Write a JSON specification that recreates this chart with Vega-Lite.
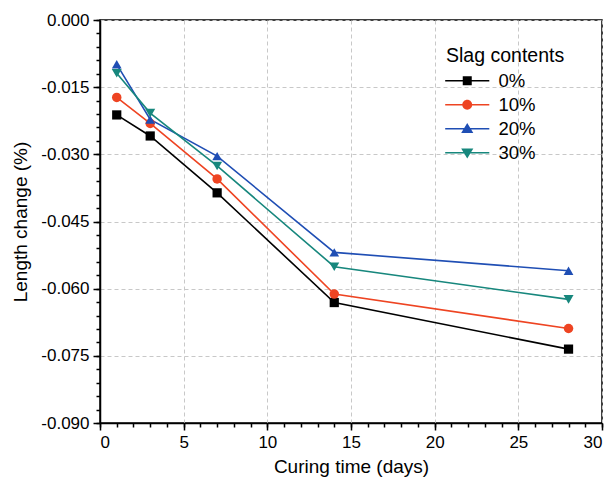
{
  "$schema": "https://vega.github.io/schema/vega-lite/v6.json",
  "width": 502,
  "height": 403,
  "autosize": {"type": "none"},
  "padding": {"left": 100, "top": 20, "right": 12, "bottom": 65},
  "background": "white",
  "config": {
    "font": "Liberation Sans",
    "view": {"stroke": "black", "strokeWidth": 1.5},
    "axis": {
      "labelFont": "Liberation Sans",
      "titleFont": "Liberation Sans",
      "labelColor": "black",
      "titleColor": "black",
      "labelFontSize": 17,
      "titleFontSize": 19,
      "titleFontWeight": "normal",
      "domainColor": "black",
      "domainWidth": 1.5,
      "tickColor": "black",
      "tickWidth": 1.5,
      "gridColor": "#c8c8c8",
      "gridDash": [4, 3],
      "gridWidth": 1
    },
    "legend": {
      "labelFont": "Liberation Sans",
      "titleFont": "Liberation Sans",
      "labelFontSize": 18.5,
      "titleFontSize": 19.5,
      "titleFontWeight": "normal",
      "labelColor": "black",
      "titleColor": "black"
    }
  },
  "data": {
    "values": [
      {"day": 1, "change": -0.0212, "slag": "0%"},
      {"day": 3, "change": -0.0259, "slag": "0%"},
      {"day": 7, "change": -0.0386, "slag": "0%"},
      {"day": 14, "change": -0.0631, "slag": "0%"},
      {"day": 28, "change": -0.0735, "slag": "0%"},
      {"day": 1, "change": -0.0173, "slag": "10%"},
      {"day": 3, "change": -0.0231, "slag": "10%"},
      {"day": 7, "change": -0.0355, "slag": "10%"},
      {"day": 14, "change": -0.0612, "slag": "10%"},
      {"day": 28, "change": -0.0689, "slag": "10%"},
      {"day": 1, "change": -0.0099, "slag": "20%"},
      {"day": 3, "change": -0.0222, "slag": "20%"},
      {"day": 7, "change": -0.0304, "slag": "20%"},
      {"day": 14, "change": -0.0519, "slag": "20%"},
      {"day": 28, "change": -0.0560, "slag": "20%"},
      {"day": 1, "change": -0.0119, "slag": "30%"},
      {"day": 3, "change": -0.0208, "slag": "30%"},
      {"day": 7, "change": -0.0326, "slag": "30%"},
      {"day": 14, "change": -0.0551, "slag": "30%"},
      {"day": 28, "change": -0.0624, "slag": "30%"}
    ]
  },
  "resolve": {
    "scale": {"color": "independent", "shape": "independent", "size": "independent"},
    "axis": {"x": "independent", "y": "independent"}
  },
  "layer": [
    {
      "mark": {"type": "line", "strokeWidth": 1.6},
      "encoding": {
        "x": {
          "field": "day", "type": "quantitative",
          "scale": {"domain": [0, 30], "nice": false, "zero": false},
          "axis": {
            "orient": "bottom",
            "title": "Curing time (days)",
            "values": [0, 5, 10, 15, 20, 25, 30],
            "tickSize": 7,
            "labelPadding": 4,
            "titlePadding": 7,
            "grid": true
          }
        },
        "y": {
          "field": "change", "type": "quantitative",
          "scale": {"domain": [-0.09, 0], "nice": false, "zero": false},
          "axis": {
            "orient": "left",
            "title": "Length change (%)",
            "values": [0, -0.015, -0.03, -0.045, -0.06, -0.075, -0.09],
            "labelExpr": "replace(format(datum.value, '.3f'), '−', '-')",
            "tickSize": 7,
            "labelPadding": 4,
            "titlePadding": 10,
            "grid": true
          }
        },
        "color": {
          "field": "slag", "type": "nominal",
          "scale": {"domain": ["0%", "10%", "20%", "30%"], "range": ["#000000", "#EE4422", "#1F4EB4", "#17877D"]},
          "legend": null
        },
        "order": {"field": "day", "type": "quantitative"}
      }
    },
    {
      "mark": {"type": "point", "filled": true, "opacity": 1},
      "encoding": {
        "x": {"field": "day", "type": "quantitative", "axis": null},
        "y": {"field": "change", "type": "quantitative", "axis": null},
        "color": {
          "field": "slag", "type": "nominal",
          "scale": {"domain": ["0%", "10%", "20%", "30%"], "range": ["#000000", "#EE4422", "#1F4EB4", "#17877D"]},
          "legend": null
        },
        "shape": {
          "field": "slag", "type": "nominal",
          "scale": {"domain": ["0%", "10%", "20%", "30%"], "range": ["square", "circle", "triangle-up", "triangle-down"]},
          "legend": null
        },
        "size": {
          "field": "slag", "type": "nominal",
          "scale": {"domain": ["0%", "10%", "20%", "30%"], "range": [85, 100, 135, 135]},
          "legend": null
        }
      }
    },
    {
      "mark": {"type": "point", "filled": true, "opacity": 0, "size": 81},
      "encoding": {
        "x": {
          "field": "day", "type": "quantitative",
          "axis": {
            "orient": "bottom",
            "values": [0,1,2,3,4,5,6,7,8,9,10,11,12,13,14,15,16,17,18,19,20,21,22,23,24,25,26,27,28,29,30],
            "labels": false, "title": null, "grid": false, "domain": false, "tickSize": 4
          }
        },
        "y": {
          "field": "change", "type": "quantitative",
          "axis": {
            "orient": "left",
            "values": [0,-0.003,-0.006,-0.009,-0.012,-0.015,-0.018,-0.021,-0.024,-0.027,-0.03,-0.033,-0.036,-0.039,-0.042,-0.045,-0.048,-0.051,-0.054,-0.057,-0.06,-0.063,-0.066,-0.069,-0.072,-0.075,-0.078,-0.081,-0.084,-0.087,-0.09],
            "labels": false, "title": null, "grid": false, "domain": false, "tickSize": 4
          }
        },
        "color": {
          "field": "slag", "type": "nominal", "title": "Slag contents",
          "scale": {"domain": ["0%", "10%", "20%", "30%"], "range": ["#000000", "#EE4422", "#1F4EB4", "#17877D"]},
          "legend": {
            "orient": "none", "legendX": 346, "legendY": 27,
            "symbolOpacity": 1, "symbolSize": 81, "symbolStrokeWidth": 0,
            "symbolOffset": 12, "labelOffset": 22, "labelAlign": "left", "rowPadding": 5, "titlePadding": 5, "padding": 0
          }
        },
        "shape": {
          "field": "slag", "type": "nominal", "title": "Slag contents",
          "scale": {
            "domain": ["0%", "10%", "20%", "30%"],
            "range": [
              "M-4.9,-0.17H4.9V0.17H-4.9ZM-1,-1H1V1H-1Z",
              "M-4.9,-0.17H4.9V0.17H-4.9ZM-1.1,0A1.1,1.1,0,1,1,1.1,0A1.1,1.1,0,1,1,-1.1,0Z",
              "M-4.9,-0.17H4.9V0.17H-4.9ZM0,-1.3L1.35,0.95H-1.35Z",
              "M-4.9,-0.17H4.9V0.17H-4.9ZM0,1.3L-1.35,-0.95H1.35Z"
            ]
          },
          "legend": {
            "orient": "none", "legendX": 346, "legendY": 27,
            "symbolOpacity": 1, "symbolSize": 81, "symbolStrokeWidth": 0,
            "symbolOffset": 12, "labelOffset": 22, "labelAlign": "left", "rowPadding": 5, "titlePadding": 5, "padding": 0
          }
        }
      }
    }
  ]
}
